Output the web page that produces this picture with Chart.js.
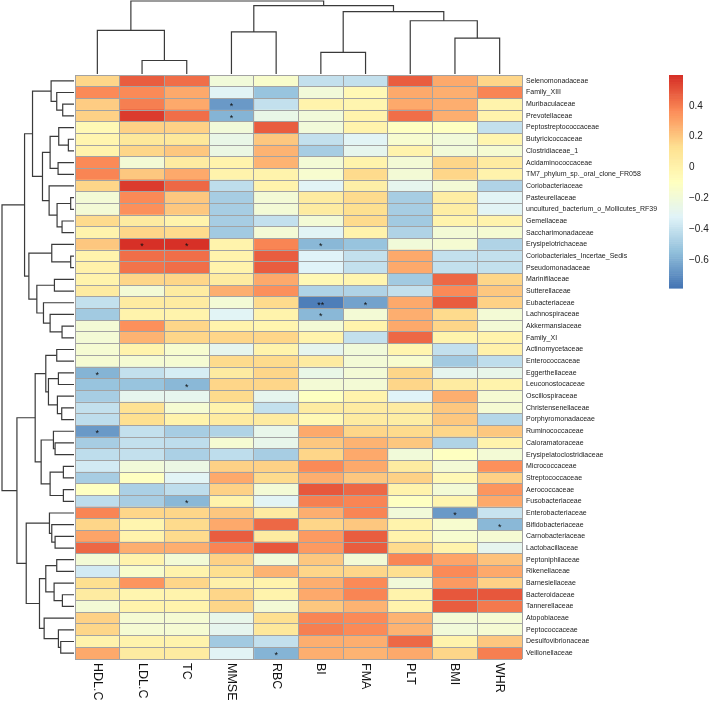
<!DOCTYPE html>
<html><head><meta charset="utf-8">
<script src="https://cdn.jsdelivr.net/npm/chart.js@4.4.1/dist/chart.umd.min.js"></script>
<style>html,body{margin:0;padding:0;background:#fff}#wrap{width:709px;height:702px;position:relative}</style>
</head><body><div id="wrap"><canvas id="c"></canvas></div>
<script>
const rowLabels = ['Selenomonadaceae','Family_XIII','Muribaculaceae','Prevotellaceae','Peptostreptococcaceae','Butyricicoccaceae','Clostridiaceae_1','Acidaminococcaceae','TM7_phylum_sp._oral_clone_FR058','Coriobacteriaceae','Pasteurellaceae','uncultured_bacterium_o_Mollicutes_RF39','Gemellaceae','Saccharimonadaceae','Erysipelotrichaceae','Coriobacteriales_Incertae_Sedis','Pseudomonadaceae','Marinifilaceae','Sutterellaceae','Eubacteriaceae','Lachnospiraceae','Akkermansiaceae','Family_XI','Actinomycetaceae','Enterococcaceae','Eggerthellaceae','Leuconostocaceae','Oscillospiraceae','Christensenellaceae','Porphyromonadaceae','Ruminococcaceae','Caloramatoraceae','Erysipelatoclostridiaceae','Micrococcaceae','Streptococcaceae','Aerococcaceae','Fusobacteriaceae','Enterobacteriaceae','Bifidobacteriaceae','Carnobacteriaceae','Lactobacillaceae','Peptoniphilaceae','Rikenellaceae','Barnesiellaceae','Bacteroidaceae','Tannerellaceae','Atopobiaceae','Peptococcaceae','Desulfovibrionaceae','Veillonellaceae'];
const colLabels = ['HDL.C','LDL.C','TC','MMSE','RBC','BI','FMA','PLT','BMI','WHR'];

const HDL_C = [0.17,0.37,0.19,0.18,-0.04,-0.02,0.00,0.37,0.38,0.17,-0.18,-0.18,0.15,0.00,0.20,0.00,0.01,0.00,0.06,-0.40,-0.50,-0.18,-0.18,-0.16,-0.16,-0.58,-0.52,-0.48,-0.40,-0.42,-0.66,-0.48,-0.42,-0.36,-0.48,-0.10,-0.42,0.39,0.17,0.30,0.46,-0.18,-0.36,0.14,0.06,-0.18,0.18,0.17,0.00,0.29];
const LDL_C = [0.48,0.37,0.40,0.56,0.18,0.08,0.16,-0.18,0.20,0.56,0.37,0.36,0.06,0.17,0.59,0.44,0.43,0.17,-0.18,0.06,0.00,0.36,0.26,0.00,-0.16,-0.40,-0.52,-0.28,0.13,0.14,-0.40,-0.40,-0.40,-0.20,-0.10,-0.47,-0.48,0.17,-0.02,0.00,0.28,0.00,-0.14,0.34,-0.02,0.00,-0.16,-0.16,0.00,0.06];
const TC = [0.44,0.29,0.29,0.44,0.18,0.08,0.20,0.06,0.29,0.46,0.20,0.20,0.00,0.15,0.59,0.44,0.44,0.17,0.06,0.06,0.00,0.17,0.17,-0.15,-0.16,-0.34,-0.56,-0.28,-0.16,0.00,-0.48,-0.42,-0.47,-0.24,-0.30,-0.42,-0.57,0.17,0.15,0.15,0.28,-0.18,0.00,0.17,0.00,0.00,-0.16,-0.16,0.00,0.06];
const MMSE = [-0.20,-0.30,-0.66,-0.58,-0.20,-0.25,-0.24,0.00,0.00,-0.42,-0.48,-0.48,-0.48,-0.50,0.00,0.00,0.00,0.06,0.28,-0.18,-0.30,0.00,0.17,-0.28,0.15,0.06,0.17,0.15,0.00,0.06,-0.46,-0.16,-0.42,0.18,0.29,0.18,0.00,0.20,0.29,0.48,0.39,0.18,0.14,0.02,0.17,0.17,-0.26,-0.28,-0.50,-0.30];
const RBC = [-0.14,-0.52,-0.40,-0.25,0.48,0.20,0.26,0.26,0.00,0.00,-0.18,-0.18,-0.40,-0.18,0.39,0.48,0.48,0.29,0.36,0.15,0.00,-0.02,0.16,0.00,0.15,0.16,0.16,-0.28,-0.40,0.06,-0.26,-0.26,-0.48,0.18,0.15,-0.18,-0.30,0.06,0.46,0.06,0.50,-0.20,0.26,0.00,0.00,-0.18,0.14,0.08,-0.40,-0.58];
const BI = [-0.40,-0.20,0.00,-0.20,-0.20,-0.40,-0.48,-0.18,-0.15,-0.30,0.06,0.06,-0.18,-0.30,-0.57,-0.32,-0.32,-0.04,-0.46,-0.75,-0.56,-0.18,0.00,-0.28,0.06,-0.25,-0.18,-0.10,0.06,-0.04,0.29,0.20,0.16,0.37,0.28,0.50,0.40,0.28,0.17,0.33,0.33,0.20,0.17,0.28,0.29,0.20,0.39,0.40,0.28,0.28];
const FMA = [-0.40,-0.04,-0.02,0.00,0.00,-0.30,-0.28,0.00,0.15,0.03,0.15,0.14,0.15,0.00,-0.52,-0.40,-0.40,-0.02,-0.46,-0.64,-0.18,0.00,-0.40,-0.20,-0.18,-0.18,-0.18,0.00,0.06,0.06,0.17,0.26,0.29,0.29,0.20,0.46,0.39,0.39,0.20,0.48,0.48,-0.18,0.16,0.37,0.39,0.26,0.37,0.37,0.28,0.26];
const PLT = [0.48,0.29,0.29,0.44,-0.10,-0.15,0.00,-0.18,-0.18,-0.28,-0.48,-0.48,-0.50,-0.46,-0.20,0.29,0.29,-0.50,-0.40,0.29,0.28,0.29,0.46,-0.02,-0.15,0.17,0.17,-0.32,0.06,0.04,0.15,0.20,-0.20,0.06,0.18,0.00,-0.10,-0.20,0.00,0.00,0.15,0.39,0.14,-0.20,0.00,0.00,0.26,0.26,0.46,0.29];
const BMI = [0.29,0.28,0.28,0.28,-0.10,-0.20,-0.20,0.17,0.16,-0.18,0.04,0.04,0.00,-0.18,-0.16,-0.40,-0.40,0.46,0.37,0.48,0.15,0.17,0.00,-0.40,-0.50,-0.28,0.06,0.28,0.20,0.20,0.17,-0.46,-0.10,-0.18,-0.04,-0.18,-0.02,-0.66,-0.15,-0.15,0.00,0.30,0.37,0.33,0.50,0.48,-0.18,-0.20,0.00,0.17];
const WHR = [0.17,0.39,0.00,0.00,-0.40,-0.02,-0.16,0.06,0.00,-0.46,-0.30,-0.30,0.00,-0.16,-0.46,-0.40,-0.40,0.17,0.20,0.18,-0.18,-0.18,0.00,0.02,-0.42,-0.26,0.00,-0.16,-0.16,-0.44,0.20,0.00,-0.18,0.36,0.18,0.34,0.29,-0.38,-0.56,-0.16,-0.28,0.22,0.29,0.18,0.50,0.42,-0.16,-0.16,0.20,0.40];

const starRow = [2,3,14,14,14,19,19,20,25,26,30,36,37,38,49];
const starCol = [3,3,1,2,5,5,6,5,0,2,0,2,8,9,4];
const starMark = ['*','*','*','*','*','**','*','*','*','*','*','*','*','*','*'];

const legendTicks = [0.4,0.2,0,-0.2,-0.4,-0.6];
const colorMin = -0.78, colorMax = 0.60;
const paletteStops = ['#4575B4','#91BFDB','#E0F3F8','#FFFFBF','#FEE090','#FC8D59','#D73027'];

// clustering trees: [left, right, height]; leaves are row / column indices
const colTree = [[0,[1,2,13.7],44.3],[[3,4,42.7],[[5,6,22],[7,[8,9,36.3],54],63.3],69.3],74];
const rowTree = [
  [[[0,[1,[2,3,34],52],69],[[[4,[5,6,17],46],[7,8,48],72],[9,[[10,11,10],[12,13,36],51],75],95],125],
   [[14,[15,16,10],67],[[17,18,59],[19,[20,[21,22,36],72],92],112],136],149],
  [[[[23,24,52],[[25,26,47],[27,[28,29,37],50],77],85],[[30,[31,32,57],62],[[33,34,32],[35,36,32],72],99],117],
   [[37,[38,[39,40,57],67],74],[[[41,42,52],[43,[44,45,35],60],85],[46,[47,[48,49,40],47],90],104],144],172],
  217];

const columns = [HDL_C,LDL_C,TC,MMSE,RBC,BI,FMA,PLT,BMI,WHR];

function hexRGB(h){return [1,3,5].map(i=>parseInt(h.substr(i,2),16));}
const stopRGB = paletteStops.map(hexRGB);
function rampColor(t){
  const s = t*(stopRGB.length-1);
  const i = Math.min(stopRGB.length-2, Math.floor(s));
  const f = s - i;
  const c = stopRGB[i].map((a,k)=>Math.round(a + (stopRGB[i+1][k]-a)*f));
  return `rgb(${c[0]},${c[1]},${c[2]})`;
}
function colorFor(v){
  let t = (v-colorMin)/(colorMax-colorMin);
  t = Math.max(0, Math.min(1, t));
  const bin = Math.min(99, Math.floor(t*100));
  return rampColor(bin/99);
}

const FONT = '"Liberation Sans", Arial, Helvetica, sans-serif';

const datasets = colLabels.map((c,j)=>({
  label: c,
  data: columns[j].map((v,i)=>({x:[j,j+1], y:rowLabels[i], v:v})),
  backgroundColor: columns[j].map(colorFor),
  borderWidth: 0,
  borderSkipped: false,
  grouped: false,
  barPercentage: 1,
  categoryPercentage: 1
}));

function drawTree(ctx, node, leafPos, hPos, rowWise){
  if (typeof node === 'number') return {p: leafPos(node), h: hPos(0)};
  const a = drawTree(ctx, node[0], leafPos, hPos, rowWise);
  const b = drawTree(ctx, node[1], leafPos, hPos, rowWise);
  const hp = hPos(node[2]);
  ctx.beginPath();
  if (rowWise){
    ctx.moveTo(a.h, a.p); ctx.lineTo(hp, a.p); ctx.lineTo(hp, b.p); ctx.lineTo(b.h, b.p);
  } else {
    ctx.moveTo(a.p, a.h); ctx.lineTo(a.p, hp); ctx.lineTo(b.p, hp); ctx.lineTo(b.p, b.h);
  }
  ctx.stroke();
  return {p:(a.p+b.p)/2, h:hp};
}

const extras = {
  id: 'heatExtras',
  afterDraw(chart){
    const {ctx, chartArea:a, scales:{x, y}} = chart;
    ctx.save();
    // significance marks
    ctx.fillStyle = '#111';
    ctx.font = '9px ' + FONT;
    ctx.textAlign = 'center';
    ctx.textBaseline = 'middle';
    starRow.forEach((r,k)=>{
      ctx.fillText(starMark[k], x.getPixelForValue(starCol[k]+0.5), y.getPixelForValue(r)+2.5);
    });
    // column labels (rotated clockwise)
    ctx.font = '12.5px ' + FONT;
    ctx.fillStyle = '#111';
    ctx.textAlign = 'left';
    ctx.textBaseline = 'middle';
    colLabels.forEach((c,j)=>{
      ctx.save();
      ctx.translate(x.getPixelForValue(j+0.5), a.bottom + 4);
      ctx.rotate(Math.PI/2);
      ctx.fillText(c, 0, 0);
      ctx.restore();
    });
    // dendrograms
    ctx.strokeStyle = '#3a3a3a';
    ctx.lineWidth = 1.2;
    ctx.lineJoin = 'miter';
    const colBase = a.top - 1, colScale = (a.top - 2)/colTree[2];
    drawTree(ctx, colTree, j=>x.getPixelForValue(j+0.5), h=>colBase - h*colScale, false);
    const rowBase = a.left - 1, rowScale = (a.left - 3)/rowTree[2];
    drawTree(ctx, rowTree, i=>y.getPixelForValue(i), h=>rowBase - h*rowScale, true);
    // colour legend
    const cbL = a.right + 147, cbW = 14, cbT = a.top, cbH = 213;
    const vPix = v => cbT + (colorMax - v)/(colorMax - colorMin)*cbH;
    for (let k=0;k<100;k++){
      const v0 = colorMin + (colorMax-colorMin)*k/100;
      const v1 = colorMin + (colorMax-colorMin)*(k+1)/100;
      ctx.fillStyle = rampColor(k/99);
      const yTop = vPix(v1), yBot = vPix(v0);
      ctx.fillRect(cbL, yTop, cbW, yBot - yTop + 0.6);
    }
    ctx.fillStyle = '#222';
    ctx.font = '10px ' + FONT;
    ctx.textAlign = 'left';
    ctx.textBaseline = 'middle';
    legendTicks.forEach(v=>{
      const s = v < 0 ? '\u2212' + Math.abs(v) : String(v);
      ctx.fillText(s, cbL + cbW + 6, vPix(v));
    });
    ctx.restore();
  }
};

new Chart(document.getElementById('c'), {
  type: 'bar',
  data: {labels: rowLabels, datasets: datasets},
  options: {
    indexAxis: 'y',
    responsive: true,
    maintainAspectRatio: false,
    animation: false,
    events: [],
    layout: {padding: {left: 75, top: 75, right: 0, bottom: 0}},
    plugins: {legend: {display: false}, tooltip: {enabled: false}},
    scales: {
      x: {
        type: 'linear', position: 'bottom', min: 0, max: 10,
        ticks: {display: false, stepSize: 1},
        grid: {color: '#A3A3A3', lineWidth: 1, z: 1, drawTicks: false},
        border: {display: false},
        afterFit: s => { s.height = 43; }
      },
      y: {
        type: 'category', position: 'right', offset: true,
        ticks: {autoSkip: false, padding: 4, color: '#222', font: {size: 7, family: FONT}},
        grid: {offset: true, color: '#A3A3A3', lineWidth: 1, z: 1, drawTicks: false},
        border: {display: false},
        afterFit: s => { s.width = 187; }
      }
    }
  },
  plugins: [extras]
});
</script></body></html>
